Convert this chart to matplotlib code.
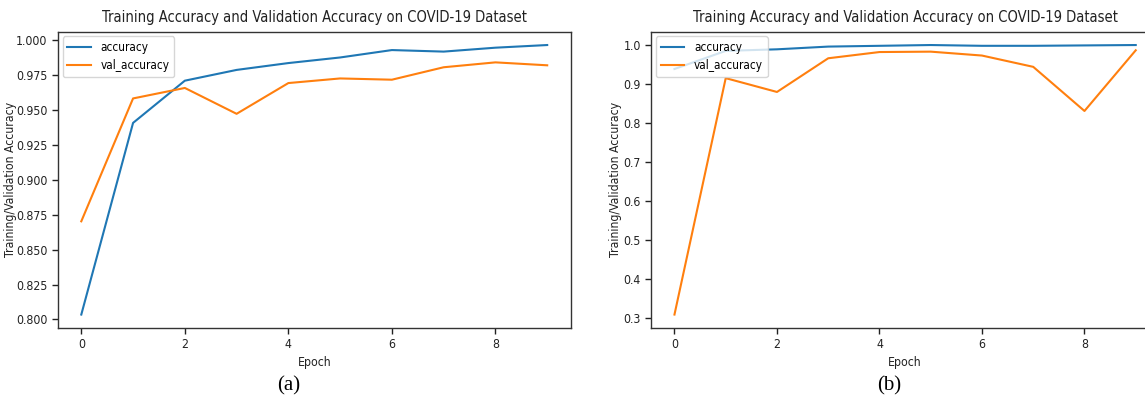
import matplotlib
matplotlib.use("Agg")
import matplotlib.pyplot as plt

epochs = list(range(10))

acc_a = [0.8035, 0.9406, 0.9708, 0.9785, 0.9834, 0.9874, 0.9927, 0.9916, 0.9944, 0.9963]
val_a = [0.8702, 0.9581, 0.9656, 0.9471, 0.9691, 0.9724, 0.9715, 0.9804, 0.9839, 0.9818]

acc_b = [0.9385, 0.985, 0.989, 0.996, 0.998, 1.0, 0.998, 0.998, 0.999, 1.0]
val_b = [0.308, 0.915, 0.8795, 0.966, 0.982, 0.983, 0.973, 0.944, 0.8307, 0.9865]

title = "Training Accuracy and Validation Accuracy on COVID-19 Dataset"
xlabel = "Epoch"
ylabel = "Training/Validation Accuracy"
captions = ["(a)", "(b)"]

plt.rcParams['font.family'] = ['DejaVu Sans']
plt.rcParams['font.stretch'] = 'condensed'

fig = plt.figure(figsize=(11.45, 4.03), dpi=100)

specs = [
    (58 / 1145, 0.186, (570.5 - 58) / 1145, 0.7357, acc_a, val_a, 289, 17),
    (651.4 / 1145, 0.186, (1158.8 - 651.4) / 1145, 0.7357, acc_b, val_b, 889, 622),
]

for i, (l, b, w, h, acc, val, capx, ylx) in enumerate(specs):
    ax = fig.add_axes([l, b, w, h])
    ax.plot(epochs, acc, color='#1f77b4', lw=1.5, label='accuracy')
    ax.plot(epochs, val, color='#ff7f0e', lw=1.5, label='val_accuracy')
    ax.set_title(title, fontsize=10.5, pad=7, color='#222222')
    ax.set_xlabel(xlabel, fontsize=8.8, color='#222222', labelpad=3)
    ax.set_ylabel(ylabel, fontsize=8.8, color='#222222')
    ax.yaxis.set_label_coords((ylx - l * 1145) / (w * 1145), 0.5)
    ax.tick_params(labelsize=8.8, length=4.5, width=1.0, pad=3, colors='#222222')
    ax.set_xticks([0, 2, 4, 6, 8])
    for s in ax.spines.values():
        s.set_linewidth(1.0)
        s.set_color('#333333')
    ax.legend(loc='upper left', fontsize=8.5, handlelength=2.0,
              borderaxespad=0.4, labelspacing=0.45)
    fig.text(capx / 1145, 1 - 386 / 403, captions[i], ha='center', va='center',
             fontsize=15, family='Liberation Serif', stretch='normal')

fig.savefig("out.png", dpi=100)
